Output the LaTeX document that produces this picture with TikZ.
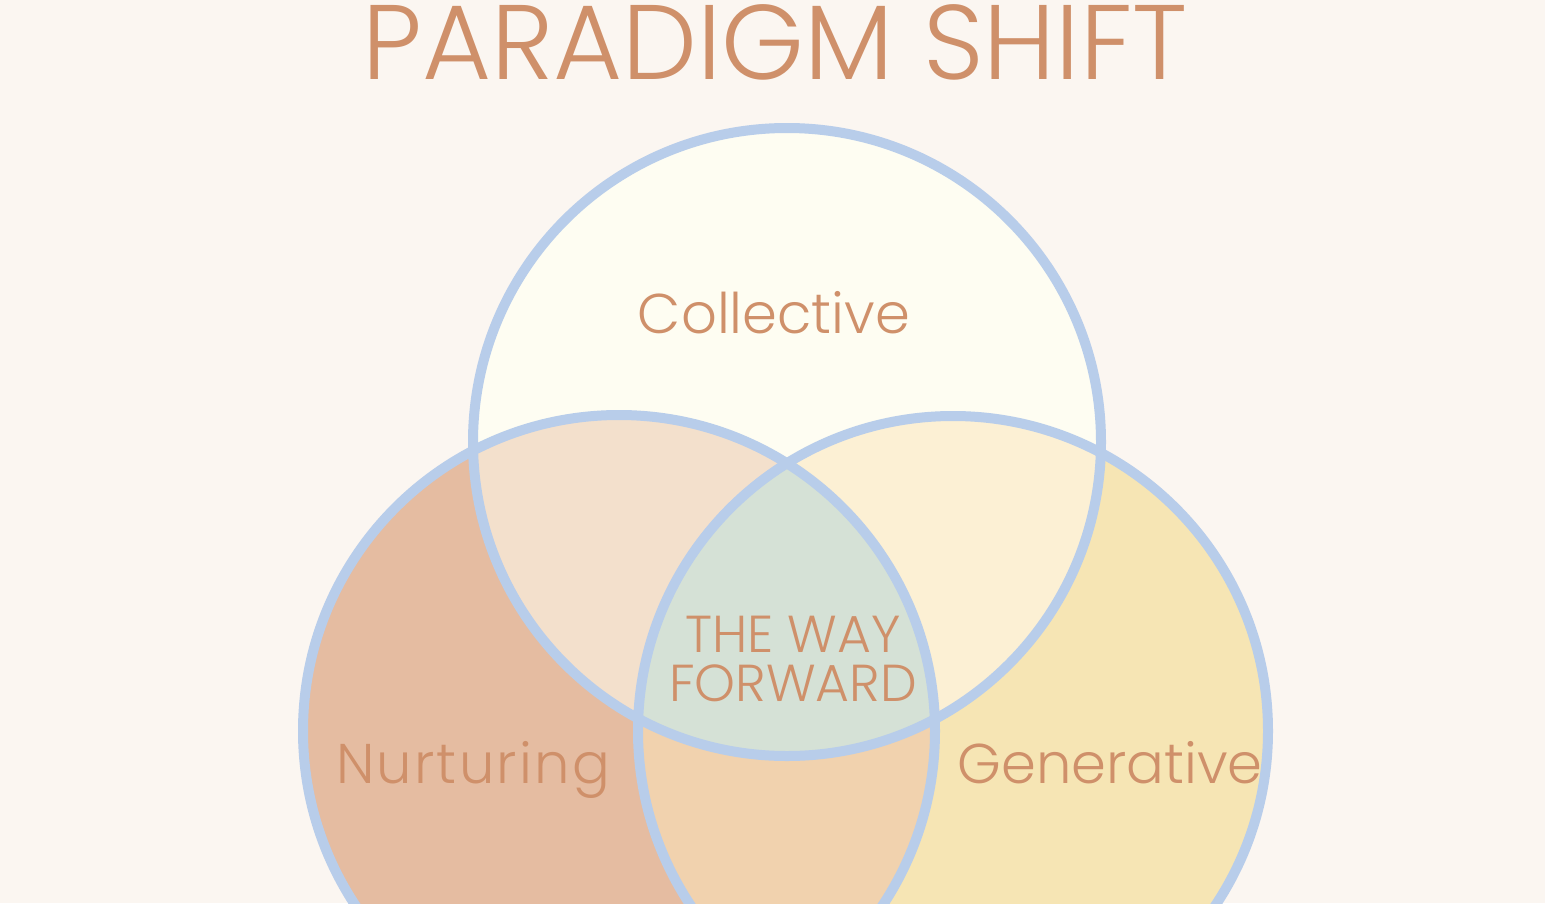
\documentclass[tikz,border=0pt]{standalone}
\usepackage{fontspec}
\setmainfont{Poppins Light}
\newfontfamily\titlefont{Poppins Light}
\definecolor{bg}{HTML}{FBF6F1}
\definecolor{ctop}{HTML}{FEFDF2}
\definecolor{cleft}{HTML}{E5BCA1}
\definecolor{cright}{HTML}{F6E5B4}
\definecolor{ctl}{HTML}{F3E0CC}
\definecolor{ctr}{HTML}{FCF0D4}
\definecolor{clr}{HTML}{F1D2AE}
\definecolor{call}{HTML}{D5E1D6}
\definecolor{ring}{HTML}{B8CDEA}
\definecolor{txt}{HTML}{CF906A}
\tikzset{
  ringline/.style={draw=ring, line width=10pt},
  label/.style={text=txt, inner sep=0pt, font=\fontsize{56}{60}\selectfont},
}
\begin{document}
\begin{tikzpicture}[x=1pt,y=-1pt]
\useasboundingbox (0,0) rectangle (1545,903);
\clip (0,0) rectangle (1545,903);
\fill[bg] (0,0) rectangle (1545,903);
\coordinate (T) at (787,442);
\coordinate (L) at (619,731);
\coordinate (R) at (953,731);
\def\rT{314}\def\rL{316}\def\rR{315}
% base fills
\fill[ctop] (T) circle[radius=\rT];
\fill[cleft] (L) circle[radius=\rL];
\fill[cright] (R) circle[radius=\rR];
% pairwise overlaps
\begin{scope}\clip (T) circle[radius=\rT]; \fill[ctl] (L) circle[radius=\rL];\end{scope}
\begin{scope}\clip (T) circle[radius=\rT]; \fill[ctr] (R) circle[radius=\rR];\end{scope}
\begin{scope}\clip (L) circle[radius=\rL]; \fill[clr] (R) circle[radius=\rR];\end{scope}
\begin{scope}\clip (T) circle[radius=\rT]; \clip (L) circle[radius=\rL]; \fill[call] (R) circle[radius=\rR];\end{scope}
% outlines
\draw[ringline] (T) circle[radius=\rT];
\draw[ringline] (L) circle[radius=\rL];
\draw[ringline] (R) circle[radius=\rR];
% texts
\node[text=txt, inner sep=0pt, anchor=base, font=\titlefont\fontsize{106}{110}\selectfont] (title) at (775,79) {PARADIGM SHIFT};
\node[label, anchor=base] (coll) at (774,333) {Collective};
\node[label, anchor=base, font=\fontsize{56}{60}\selectfont\addfontfeatures{LetterSpace=4}] (nurt) at (473,783) {Nurturing};
\node[label, anchor=base] (gen) at (1110,783) {Generative};
\node[label, anchor=base, align=center, font=\fontsize{52}{49}\selectfont] (way) at (793,701) {THE WAY\\FORWARD};
\end{tikzpicture}
\end{document}
